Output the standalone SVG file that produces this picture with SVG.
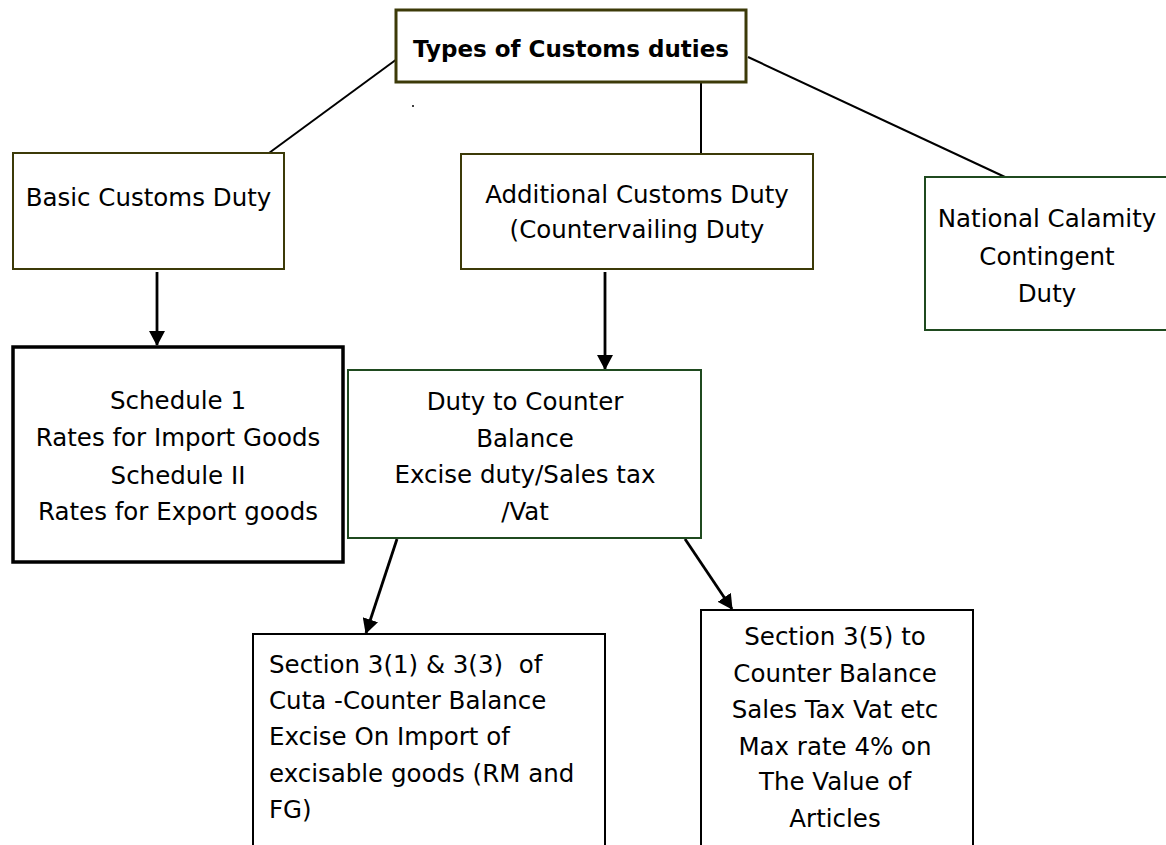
<svg xmlns="http://www.w3.org/2000/svg" width="1166" height="845" viewBox="0 0 1166 845">
<style>
  .t { font-family: "DejaVu Sans", "Liberation Sans", sans-serif; font-size: 24.5px; fill: #000; }
  .c { text-anchor: middle; }
  .title { font-family: "DejaVu Sans", "Liberation Sans", sans-serif; font-size: 23px; font-weight: bold; fill: #000; text-anchor: middle; }
  .olive { fill: #fff; stroke: #3c3a08; stroke-width: 2; }
  .green { fill: #fff; stroke: #1f4a1f; stroke-width: 2; }
  .black { fill: #fff; stroke: #000; stroke-width: 2; }
  .conn { stroke: #000; stroke-width: 2; fill: none; }
  .arr { stroke: #000; stroke-width: 2.8; fill: none; marker-end: url(#ah); }
</style>
<defs>
  <marker id="ah" viewBox="0 0 15 16" refX="14" refY="8" markerWidth="15" markerHeight="16" markerUnits="userSpaceOnUse" orient="auto">
    <path d="M0,0 L15,8 L0,16 z" fill="#000"/>
  </marker>
</defs>
<rect width="1166" height="845" fill="#fff"/>

<g id="connectors">
  <line class="conn" x1="397" y1="59" x2="269" y2="153"/>
  <line class="conn" x1="701" y1="82" x2="701" y2="154"/>
  <line class="conn" x1="748" y1="57" x2="1005" y2="177"/>
  <line class="arr" x1="157" y1="272" x2="157" y2="345"/>
  <line class="arr" x1="605" y1="272" x2="605" y2="369"/>
  <line class="arr" x1="397" y1="539" x2="366" y2="633"/>
  <line class="arr" x1="685" y1="539" x2="732" y2="609"/>
</g>

<g id="node-types">
  <rect x="396" y="10" width="350" height="72" fill="#fff" stroke="#3c3a08" stroke-width="3"/>
  <text class="title" x="571" y="57">Types of Customs duties</text>
</g>
<circle cx="413" cy="106" r="1" fill="#000"/>

<g id="node-basic">
  <rect class="olive" x="13" y="153" width="271" height="116"/>
  <text class="t c" x="148.5" y="206">Basic Customs Duty</text>
</g>

<g id="node-additional">
  <rect class="olive" x="461" y="154" width="352" height="115"/>
  <text class="t c" x="637" y="203">Additional Customs Duty</text>
  <text class="t c" x="637" y="238">(Countervailing Duty</text>
</g>

<g id="node-national">
  <rect class="green" x="925" y="177" width="250" height="153"/>
  <text class="t c" x="1047" y="227">National Calamity</text>
  <text class="t c" x="1047" y="265">Contingent</text>
  <text class="t c" x="1047" y="302">Duty</text>
</g>

<g id="node-schedule">
  <rect x="13" y="347" width="330" height="215" fill="#fff" stroke="#000" stroke-width="3.5"/>
  <text class="t c" x="178" y="409">Schedule 1</text>
  <text class="t c" x="178" y="446">Rates for Import Goods</text>
  <text class="t c" x="178" y="484">Schedule II</text>
  <text class="t c" x="178" y="520">Rates for Export goods</text>
</g>

<g id="node-duty">
  <rect class="green" x="348" y="370" width="353" height="168"/>
  <text class="t c" x="525" y="410">Duty to Counter</text>
  <text class="t c" x="525" y="447">Balance</text>
  <text class="t c" x="525" y="483">Excise duty/Sales tax</text>
  <text class="t c" x="525" y="520">/Vat</text>
</g>

<g id="node-section31">
  <rect class="black" x="253" y="634" width="352" height="230"/>
  <text class="t" x="269" y="673" xml:space="preserve">Section 3(1) &amp; 3(3)  of</text>
  <text class="t" x="269" y="709">Cuta -Counter Balance</text>
  <text class="t" x="269" y="745">Excise On Import of</text>
  <text class="t" x="269" y="782">excisable goods (RM and</text>
  <text class="t" x="269" y="818">FG)</text>
</g>

<g id="node-section35">
  <rect class="black" x="701" y="610" width="272" height="254"/>
  <text class="t c" x="835" y="645">Section 3(5) to</text>
  <text class="t c" x="835" y="682">Counter Balance</text>
  <text class="t c" x="835" y="718">Sales Tax Vat etc</text>
  <text class="t c" x="835" y="755">Max rate 4% on</text>
  <text class="t c" x="835" y="790">The Value of</text>
  <text class="t c" x="835" y="827">Articles</text>
</g>
</svg>
